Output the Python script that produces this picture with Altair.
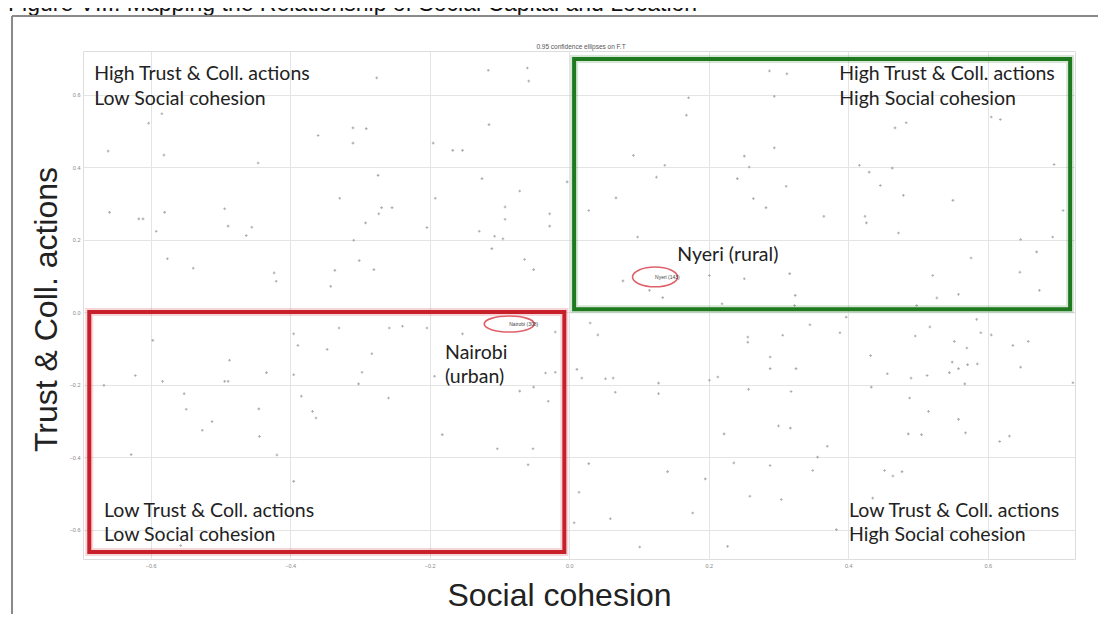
import altair as alt
import pandas as pd

# ---------------- data ----------------
X_DOMAIN = [-0.697, 0.725]
Y_DOMAIN = [-0.681, 0.72]
TICKS = [-0.6, -0.4, -0.2, 0.0, 0.2, 0.4, 0.6]

pts_x = [
    -0.116, -0.060, -0.058, -0.276, -0.584, -0.603, -0.115, -0.360, -0.310, -0.291, -0.310, -0.661, -0.581, -0.195,
    -0.167, -0.153, -0.446, -0.274, -0.125, -0.003, -0.071, -0.329, -0.192, -0.494, -0.659, -0.617, -0.611, -0.580,
    -0.269, -0.254, -0.273, -0.092, -0.092, -0.028, -0.028, -0.292, -0.489, -0.455, -0.463, -0.592, -0.204, -0.129,
    -0.107, -0.095, -0.111, -0.309, -0.576, -0.539, -0.301, -0.280, -0.336, -0.423, -0.420, -0.342, -0.064, -0.051,
    0.287, 0.312, 0.171, 0.294, 0.168, 0.467, 0.483, 0.605, 0.618, 0.092, 0.251, 0.294, 0.137, 0.258, 0.416, 0.430,
    0.463, 0.695, 0.125, 0.241, 0.311, 0.446, 0.479, 0.067, 0.264, 0.282, 0.550, 0.028, 0.365, 0.424, 0.426, 0.708,
    0.472, 0.098, 0.647, 0.693, 0.670, 0.576, 0.521, 0.646, 0.077, 0.201, 0.251, 0.316, 0.674, 0.558, 0.527, 0.134,
    0.324, 0.219, 0.323, 0.498, 0.115,
    -0.597, -0.622, -0.583, -0.667, -0.487, -0.494, -0.489, -0.434, -0.395, -0.389, -0.395, -0.330, -0.347, -0.283,
    -0.297, -0.302, -0.258, -0.239, -0.204, -0.153, -0.193, -0.384, -0.368, -0.363, -0.259, -0.552, -0.549, -0.512,
    -0.526, -0.445, -0.444, -0.628, -0.419, -0.395, -0.182, -0.071, -0.051, -0.034, -0.020, -0.030, -0.103, -0.052,
    -0.059, -0.020, -0.557,
    0.030, 0.041, 0.011, 0.018, 0.052, 0.063, 0.066, 0.128, 0.128, 0.201, 0.213, 0.256, 0.256, 0.306, 0.288, 0.288,
    0.325, 0.257, 0.318, 0.345, 0.388, 0.397, 0.584, 0.517, 0.496, 0.590, 0.605, 0.552, 0.570, 0.636, 0.658, 0.432,
    0.456, 0.490, 0.513, 0.549, 0.545, 0.558, 0.571, 0.585, 0.567, 0.647, 0.433, 0.488, 0.515, 0.558, 0.568, 0.486,
    0.505, 0.617, 0.631, 0.300, 0.317, 0.222, 0.370, 0.356, 0.028, 0.141, 0.195, 0.236, 0.288, 0.349, 0.452, 0.464,
    0.477, 0.014, 0.259, 0.304, 0.435, 0.059, 0.177, 0.007, 0.383, 0.101, 0.227, 0.722,
]
pts_y = [
    0.667, 0.673, 0.637, 0.646, 0.547, 0.521, 0.517, 0.487, 0.508, 0.506, 0.466, 0.444, 0.433, 0.466,
    0.446, 0.446, 0.411, 0.377, 0.368, 0.359, 0.334, 0.314, 0.314, 0.285, 0.275, 0.257, 0.257, 0.275,
    0.288, 0.288, 0.271, 0.290, 0.256, 0.271, 0.237, 0.246, 0.237, 0.234, 0.211, 0.223, 0.233, 0.223,
    0.209, 0.202, 0.175, 0.198, 0.147, 0.121, 0.142, 0.117, 0.115, 0.108, 0.085, 0.071, 0.145, 0.117,
    0.665, 0.657, 0.591, 0.595, 0.543, 0.508, 0.522, 0.538, 0.531, 0.432, 0.430, 0.453, 0.405, 0.400, 0.405, 0.386,
    0.397, 0.407, 0.372, 0.368, 0.347, 0.349, 0.322, 0.315, 0.313, 0.288, 0.308, 0.280, 0.264, 0.264, 0.246, 0.280,
    0.218, 0.207, 0.200, 0.207, 0.166, 0.149, 0.101, 0.110, 0.086, 0.101, 0.092, 0.106, 0.060, 0.049, 0.039, 0.040,
    0.046, 0.023, 0.018, 0.018, 0.060,
    -0.078, -0.175, -0.191, -0.202, -0.133, -0.191, -0.191, -0.167, -0.060, -0.092, -0.173, -0.044, -0.103, -0.115,
    -0.166, -0.198, -0.044, -0.039, -0.044, -0.060, -0.177, -0.232, -0.274, -0.292, -0.237, -0.225, -0.268, -0.302,
    -0.326, -0.267, -0.343, -0.393, -0.394, -0.467, -0.338, -0.218, -0.207, -0.168, -0.166, -0.246, -0.377, -0.377,
    -0.421, -0.055, -0.644,
    -0.030, -0.063, -0.158, -0.182, -0.184, -0.182, -0.221, -0.196, -0.225, -0.188, -0.179, -0.069, -0.083, -0.064,
    -0.124, -0.156, -0.156, -0.213, -0.219, -0.035, -0.057, -0.014, -0.020, -0.041, -0.066, -0.057, -0.063, -0.081,
    -0.099, -0.092, -0.081, -0.120, -0.170, -0.182, -0.175, -0.138, -0.167, -0.156, -0.145, -0.143, -0.198, -0.152,
    -0.207, -0.237, -0.274, -0.296, -0.333, -0.336, -0.338, -0.357, -0.342, -0.314, -0.320, -0.336, -0.370, -0.400,
    -0.418, -0.440, -0.460, -0.416, -0.423, -0.437, -0.437, -0.452, -0.440, -0.497, -0.508, -0.517, -0.513, -0.570,
    -0.554, -0.581, -0.600, -0.648, -0.646, -0.195,
]

# quadrant boxes
box_name = ["Urban box", "Rural box"]
box_x0 = [-0.688, 0.007]
box_x1 = [-0.007, 0.718]
box_y0 = [-0.662, 0.008]
box_y1 = [0.0, 0.698]
box_color = ["#c8202b", "#1f7a1f"]

# quadrant captions
corner_text = ["High Trust & Coll. actions", "Low Social cohesion",
               "High Trust & Coll. actions", "High Social cohesion",
               "Low Trust & Coll. actions", "Low Social cohesion",
               "Low Trust & Coll. actions", "High Social cohesion"]
corner_x = [-0.681, -0.681, 0.387, 0.387, -0.667, -0.667, 0.401, 0.401]
corner_y = [0.657, 0.588, 0.657, 0.588, -0.549, -0.615, -0.549, -0.615]

# location labels
place_text = ["Nyeri (rural)", "Nairobi", "(urban)"]
place_x = [0.155, -0.178, -0.178]
place_y = [0.157, -0.113, -0.179]

# confidence ellipses
ell_label = ["Nairobi (308)", "Nyeri (143)"]
ell_x = [-0.086, 0.123]
ell_y = [-0.033, 0.097]

FIG_TITLE = "Figure VIII: Mapping the Relationship of Social Capital and Location"
SUB_TITLE = "0.95 confidence ellipses on F.T"

# ---------------- chart ----------------
xs = alt.Scale(domain=X_DOMAIN, nice=False, zero=False)
ys = alt.Scale(domain=Y_DOMAIN, nice=False, zero=False)

x_axis = alt.Axis(values=TICKS, format=".1f", title="Social cohesion", grid=True,
                  gridColor="#e4e4e4", gridWidth=1, domain=False, ticks=False,
                  labelFontSize=5.5, labelColor="#888", labelPadding=4, labelFont="Liberation Sans",
                  titleFont="Liberation Sans", titleFontSize=32, titleFontWeight="normal",
                  titleColor="#222", titleX=476, titleY=46, titleAlign="center",
                  titleBaseline="alphabetic")
y_axis = alt.Axis(values=TICKS, format=".1f", title="Trust & Coll. actions", grid=True,
                  gridColor="#e4e4e4", gridWidth=1, domain=False, ticks=False,
                  labelFontSize=5.5, labelColor="#888", labelPadding=3, labelFont="Liberation Sans",
                  titleFont="Liberation Sans", titleFontSize=32, titleFontWeight="normal",
                  titleColor="#222", titleX=-27, titleY=258, titleAngle=270, titleAlign="center",
                  titleBaseline="alphabetic")

pts_df = pd.DataFrame({"x": pts_x, "y": pts_y})
points = alt.Chart(pts_df).mark_point(shape="cross", filled=True, size=7, color="#9a9a9a",
                                      opacity=0.8).encode(
    x=alt.X("x:Q", scale=xs, axis=x_axis),
    y=alt.Y("y:Q", scale=ys, axis=y_axis),
)

box_df = pd.DataFrame({"name": box_name, "x": box_x0, "x2": box_x1, "y": box_y0, "y2": box_y1})
stroke_scale = alt.Scale(domain=box_name, range=box_color)
box_halo = alt.Chart(box_df).mark_rect(fill="transparent", strokeWidth=8, strokeOpacity=0.18).encode(
    x=alt.X("x:Q", scale=xs, axis=x_axis), x2="x2:Q",
    y=alt.Y("y:Q", scale=ys, axis=y_axis), y2="y2:Q",
    stroke=alt.Stroke("name:N", scale=stroke_scale, legend=None),
)
boxes = alt.Chart(box_df).mark_rect(fill="transparent", strokeWidth=4).encode(
    x=alt.X("x:Q", scale=xs, axis=x_axis), x2="x2:Q",
    y=alt.Y("y:Q", scale=ys, axis=y_axis), y2="y2:Q",
    stroke=alt.Stroke("name:N", scale=stroke_scale, legend=None),
)

corner_df = pd.DataFrame({"x": corner_x, "y": corner_y, "t": corner_text})
corners = alt.Chart(corner_df).mark_text(align="left", baseline="middle", font="Lato",
                                         fontSize=19.5, color="#222").encode(
    x=alt.X("x:Q", scale=xs, axis=x_axis),
    y=alt.Y("y:Q", scale=ys, axis=y_axis),
    text="t:N",
)

place_df = pd.DataFrame({"x": place_x, "y": place_y, "t": place_text})
places = alt.Chart(place_df).mark_text(align="left", baseline="middle", font="Lato",
                                       fontSize=19.5, color="#222").encode(
    x=alt.X("x:Q", scale=xs, axis=x_axis),
    y=alt.Y("y:Q", scale=ys, axis=y_axis),
    text="t:N",
)

ell_df = pd.DataFrame({"x": ell_x, "y": ell_y, "t": ell_label})
ell_nairobi = alt.Chart(ell_df.iloc[[0]]).mark_point(
    shape="M -1 0 A 1 0.32 0 1 1 1 0 A 1 0.32 0 1 1 -1 0 Z",
    size=2500, filled=False, stroke="#e0606a", strokeWidth=1.6, opacity=1).encode(
    x=alt.X("x:Q", scale=xs, axis=x_axis),
    y=alt.Y("y:Q", scale=ys, axis=y_axis),
)
ell_nyeri = alt.Chart(ell_df.iloc[[1]]).mark_point(
    shape="M -1 0 A 1 0.44 0 1 1 1 0 A 1 0.44 0 1 1 -1 0 Z",
    size=2025, filled=False, stroke="#e0606a", strokeWidth=1.6, opacity=1).encode(
    x=alt.X("x:Q", scale=xs, axis=x_axis),
    y=alt.Y("y:Q", scale=ys, axis=y_axis),
)
ell_text = alt.Chart(ell_df).mark_text(align="left", baseline="middle", font="Liberation Sans",
                                       fontSize=5, color="#444").encode(
    x=alt.X("x:Q", scale=xs, axis=x_axis),
    y=alt.Y("y:Q", scale=ys, axis=y_axis),
    text="t:N",
)

# decorations outside the plot area (pixel positions relative to the plot origin)
deco_df = pd.DataFrame({"t": [FIG_TITLE]})
fig_title = alt.Chart(deco_df).mark_text(align="left", baseline="alphabetic", font="Liberation Sans",
                                         fontSize=23, color="#111").encode(
    x=alt.value(-75), y=alt.value(-40), text="t:N")
sub_df = pd.DataFrame({"t": [SUB_TITLE]})
sub_title = alt.Chart(sub_df).mark_text(align="center", baseline="middle", font="Liberation Sans",
                                        fontSize=6.5, color="#555").encode(
    x=alt.value(498), y=alt.value(-4), text="t:N")
frame_top = alt.Chart(deco_df).mark_rule(color="#8a8a8a", strokeWidth=2).encode(
    x=alt.value(-71), x2=alt.value(1020), y=alt.value(-35))
frame_left = alt.Chart(deco_df).mark_rule(color="#8a8a8a", strokeWidth=2).encode(
    x=alt.value(-71), y=alt.value(-35), y2=alt.value(570))

chart = alt.layer(
    points, box_halo, boxes, ell_nairobi, ell_nyeri, ell_text, corners, places,
    fig_title, sub_title, frame_top, frame_left,
).properties(
    width=992, height=508,
    autosize=alt.AutoSizeParams(type="none"),
    padding={"left": 75, "top": 43, "right": 23, "bottom": 55},
).configure_view(
    stroke="#8c8c8c", strokeWidth=1.5, clip=False
).configure(background="white")

chart.save("out.html", embed_options={"renderer": "svg", "actions": False})
